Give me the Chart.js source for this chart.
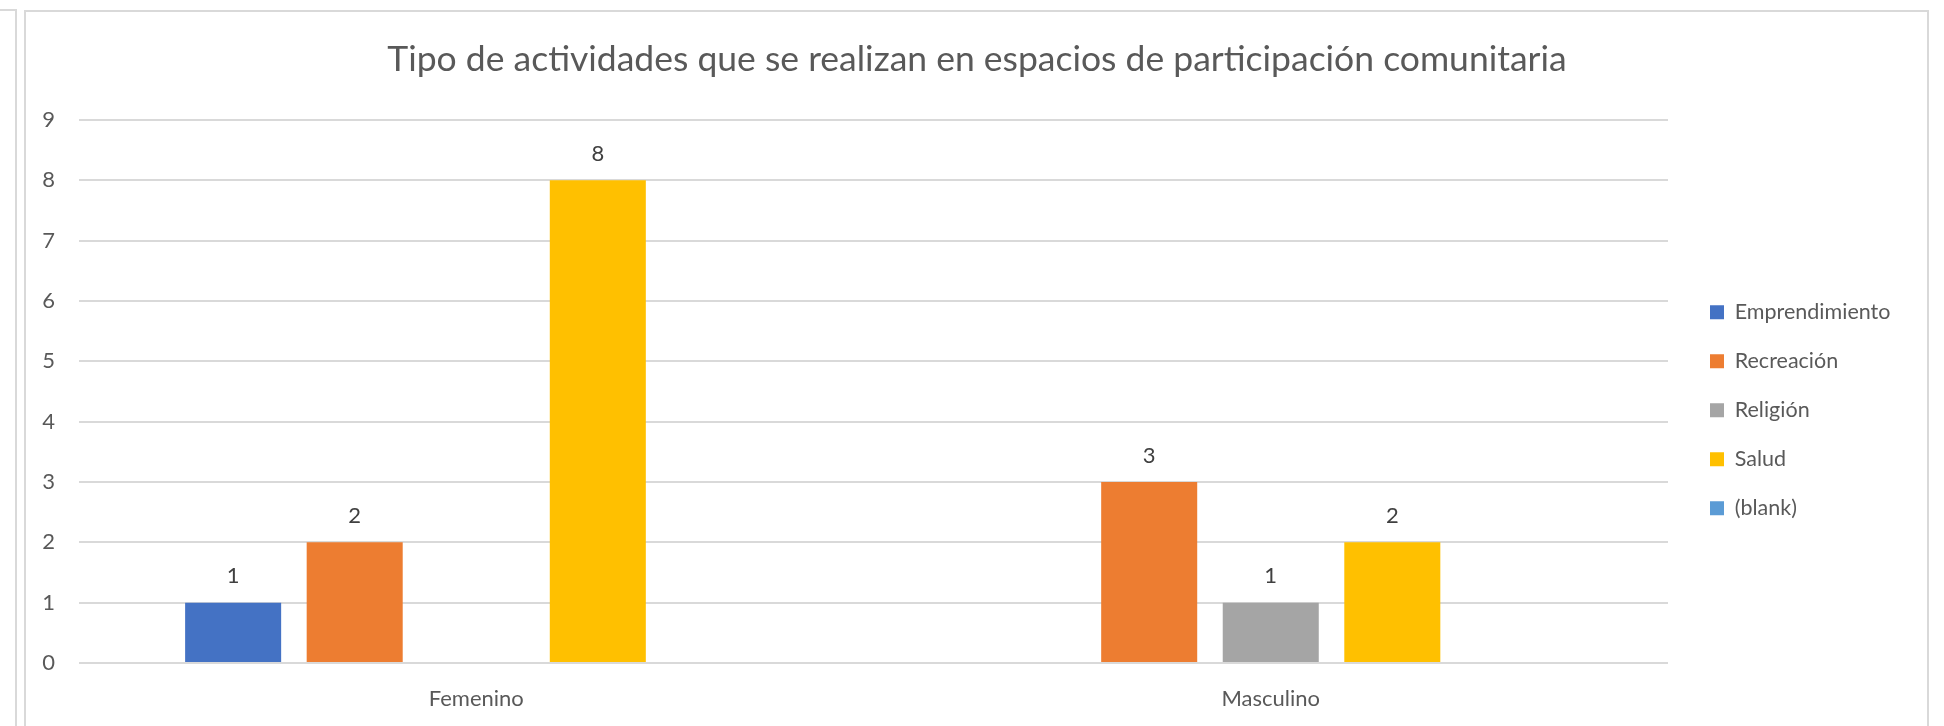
<!DOCTYPE html>
<html><head><meta charset="utf-8">
<script src="https://cdn.jsdelivr.net/npm/chart.js@4.4.1/dist/chart.umd.min.js"></script>
<style>
html,body{margin:0;padding:0;background:#fff;width:1944px;height:726px;overflow:hidden;}
.frame{position:absolute;left:24px;top:10px;width:1901px;height:760px;border:2px solid #d9d9d9;}
.frame2{position:absolute;left:-10px;top:9px;width:25px;height:760px;border-top:2px solid #d9d9d9;border-right:2px solid #d9d9d9;}
#wrap{position:absolute;left:0;top:0;width:1944px;height:726px;}
canvas{position:absolute;left:0;top:0;}
</style></head>
<body>
<div class="frame2"></div>
<div class="frame"></div>
<div id="wrap"><canvas id="c" width="1944" height="726"></canvas></div>
<script>
// ---- data ----
const title = 'Tipo de actividades que se realizan en espacios de participación comunitaria';
const categories = ['Femenino', 'Masculino'];
const seriesNames = ['Emprendimiento', 'Recreación', 'Religión', 'Salud', '(blank)'];
const emprendimiento = [1, null];
const recreacion = [2, 3];
const religion = [null, 1];
const salud = [8, 2];
const blank = [null, null];
const yTicks = [0, 1, 2, 3, 4, 5, 6, 7, 8, 9];
const seriesColors = ['#4472C4', '#ED7D31', '#A5A5A5', '#FFC000', '#5B9BD5'];
const seriesValues = [emprendimiento, recreacion, religion, salud, blank];

// ---- layout constants ----
const FONT = 'Lato';
const W = 1944, H = 726;
const PAD_L = 25, PAD_R = 15, PAD_B = 16;
const PLOT_LEFT = 79, PLOT_RIGHT = 1668, PLOT_BOTTOM = 663;
const LEGEND_BOX_X = 1710, LEGEND_FIRST_TOP = 301.5;
const LEGEND_PAD = 27.5;

const valueLabels = {
  id: 'valueLabels',
  afterDatasetsDraw(chart) {
    const ctx = chart.ctx;
    ctx.save();
    ctx.font = '22px ' + FONT;
    ctx.fillStyle = '#404040';
    ctx.textAlign = 'center';
    ctx.textBaseline = 'middle';
    chart.data.datasets.forEach((ds, i) => {
      const meta = chart.getDatasetMeta(i);
      meta.data.forEach((el, j) => {
        const v = ds.data[j];
        if (v === null || v === undefined) return;
        ctx.fillText(String(v), el.x, el.y - 26.5);
      });
    });
    ctx.restore();
  }
};

const legendPlace = {
  id: 'legendPlace',
  afterLayout(chart) {
    const lg = chart.legend;
    if (!lg) return;
    const w = lg.width, h = lg.height;
    lg.left = LEGEND_BOX_X - LEGEND_PAD;
    lg.right = lg.left + w;
    lg.top = LEGEND_FIRST_TOP - LEGEND_PAD;
    lg.bottom = lg.top + h;
  }
};

new Chart(document.getElementById('c'), {
  type: 'bar',
  data: {
    labels: categories,
    datasets: seriesNames.map((name, i) => ({
      label: name,
      data: seriesValues[i],
      backgroundColor: seriesColors[i],
      borderWidth: 0,
      categoryPercentage: 0.765,
      barPercentage: 0.79
    }))
  },
  options: {
    responsive: false,
    animation: false,
    devicePixelRatio: 1,
    layout: { padding: { left: PAD_L, right: PAD_R, top: 10, bottom: PAD_B } },
    plugins: {
      title: {
        display: true, text: title, color: '#595959',
        font: { family: FONT, size: 35.5, weight: 'normal', lineHeight: 1.2 },
        padding: { top: 28.7, bottom: 38.7 }
      },
      legend: {
        position: 'right', align: 'start',
        labels: {
          boxWidth: 14, boxHeight: 14, padding: LEGEND_PAD, color: '#595959',
          font: { family: FONT, size: 21.5 }
        }
      },
      tooltip: { enabled: false }
    },
    scales: {
      x: {
        afterFit: s => { s.height = H - PAD_B - PLOT_BOTTOM; },
        grid: { display: false, drawTicks: false },
        border: { display: false },
        ticks: { color: '#595959', font: { family: FONT, size: 22 }, padding: 23 }
      },
      y: {
        min: 0, max: 9,
        afterFit: s => { s.width = PLOT_LEFT - PAD_L; },
        afterBuildTicks: s => { s.ticks = yTicks.map(v => ({ value: v })); },
        grid: { color: '#d9d9d9', lineWidth: 2, drawTicks: false },
        border: { display: false },
        ticks: { color: '#595959', font: { family: FONT, size: 22 }, padding: 24 }
      },
      y2: {
        position: 'right', min: 0, max: 1,
        grid: { display: false }, border: { display: false },
        ticks: { display: false },
        afterFit: s => {
          const lg = s.chart.legend;
          const lw = lg ? lg.width : 0;
          s.width = Math.max(0, (W - PAD_R - lw) - PLOT_RIGHT);
        }
      }
    }
  },
  plugins: [valueLabels, legendPlace]
});
</script>
</body></html>
